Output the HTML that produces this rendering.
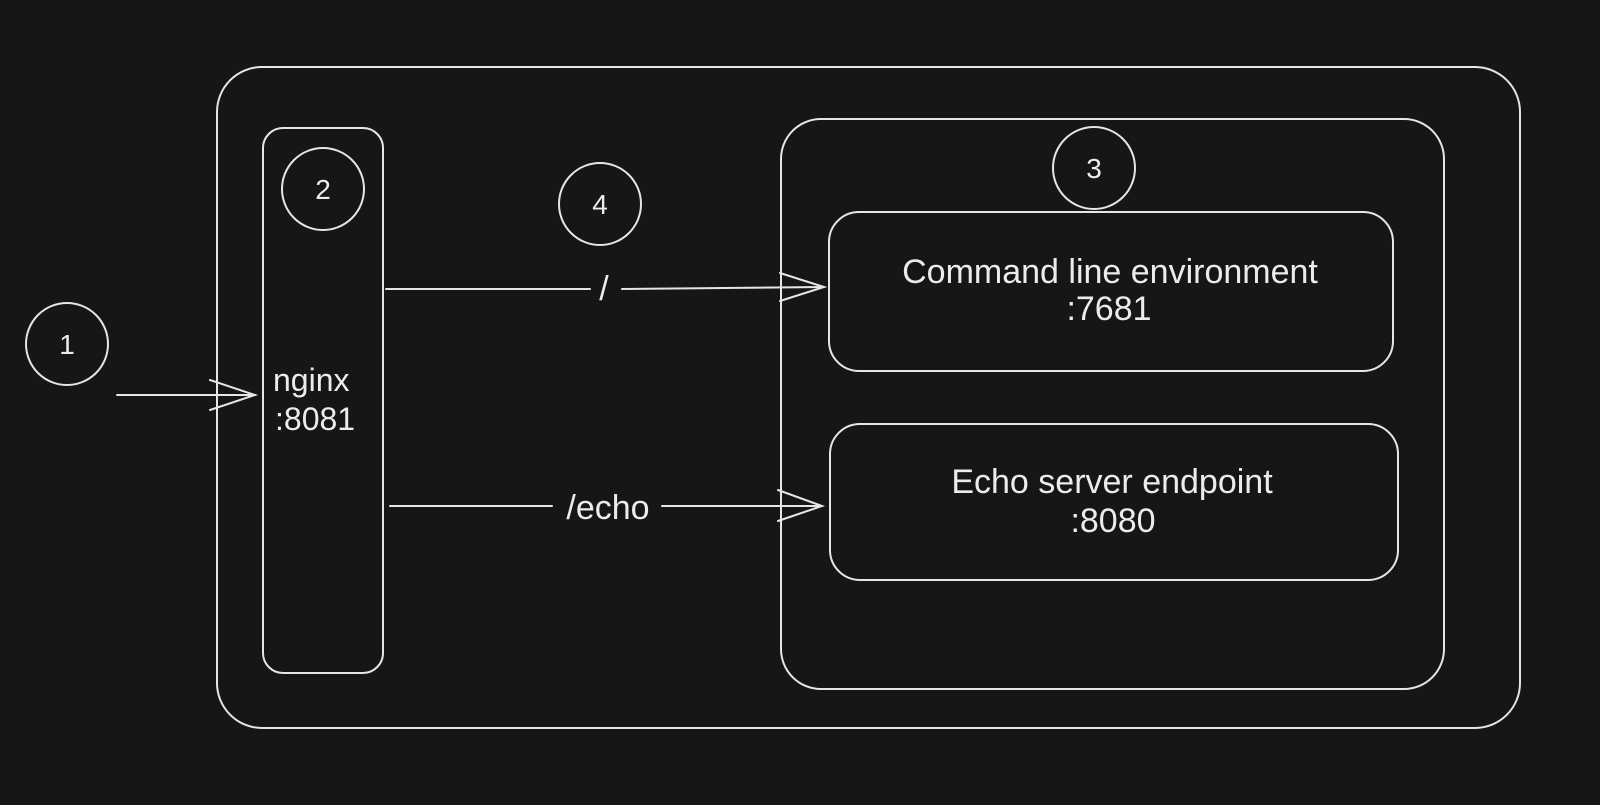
<!DOCTYPE html>
<html><head><meta charset="utf-8"><style>
html,body{margin:0;padding:0;background:#161616;}
svg{display:block}
text{font-family:"Liberation Sans",sans-serif;fill:#ececec;}
</style></head><body>
<svg width="1600" height="805" viewBox="0 0 1600 805" xmlns="http://www.w3.org/2000/svg">
<rect width="1600" height="805" fill="#161616"/>
<g fill="none" stroke="#e6e6e6" stroke-width="2" stroke-linecap="round">
<rect x="217" y="67" width="1303" height="661" rx="45"/>
<rect x="263" y="128" width="120" height="545" rx="20"/>
<rect x="781" y="119" width="663" height="570" rx="40"/>
<rect x="829" y="212" width="564" height="159" rx="30"/>
<rect x="830" y="424" width="568" height="156" rx="30"/>
<circle cx="1094" cy="168" r="41"/>
<circle cx="323" cy="189" r="41"/>
<circle cx="600" cy="204" r="41"/>
<circle cx="67" cy="344" r="41"/>
<line x1="117" y1="395" x2="255" y2="395"/>
<path d="M210 380 L255 395 L210 410"/>
<line x1="386" y1="289" x2="590" y2="289"/>
<line x1="622" y1="289" x2="824" y2="287"/>
<path d="M780 273 L824 287 L780 301"/>
<line x1="390" y1="506" x2="552" y2="506"/>
<line x1="662" y1="506" x2="822" y2="506"/>
<path d="M778 490 L822 506 L778 521"/>
</g>
<g font-size="28" text-anchor="middle">
<text x="1094" y="178">3</text>
<text x="323" y="199">2</text>
<text x="600" y="214">4</text>
<text x="67" y="354">1</text>
<text x="604" y="300" font-size="34">/</text>
<text x="608" y="519" font-size="34">/echo</text>
<text x="1110" y="283" font-size="34">Command line environment</text>
<text x="1109" y="320" font-size="34">:7681</text>
<text x="1112" y="493" font-size="34">Echo server endpoint</text>
<text x="1113" y="532" font-size="34">:8080</text>
</g>
<g font-size="32">
<text x="273" y="391">nginx</text>
<text x="275" y="430">:8081</text>
</g>
</svg>
</body></html>
